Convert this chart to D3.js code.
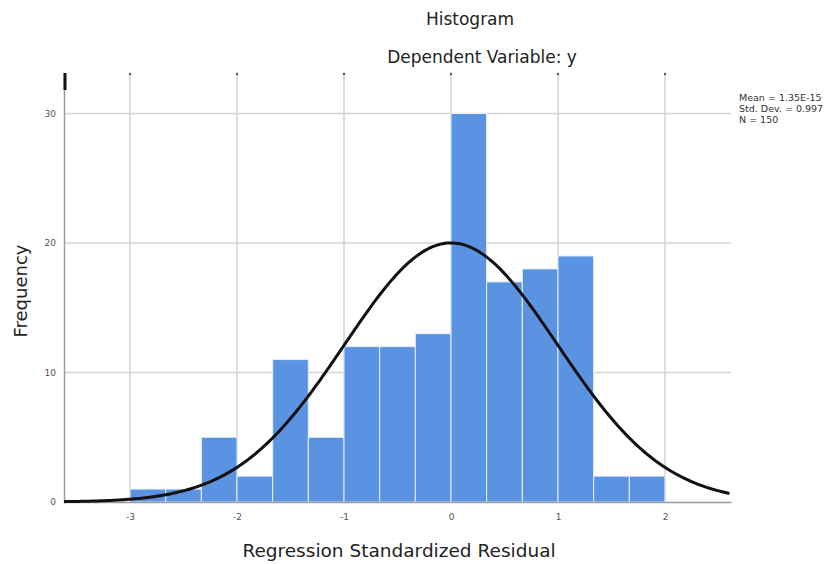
<!DOCTYPE html>
<html>
<head>
<meta charset="utf-8">
<script src="https://cdn.jsdelivr.net/npm/d3@7"></script>
<style>
  html, body { margin: 0; padding: 0; background: #fff; }
  svg { display: block; font-family: "DejaVu Sans", sans-serif; }
</style>
</head>
<body>
<svg id="chart" width="838" height="564"></svg>
<script>
// ---- data ----
const binStarts = [-3, -2.6667, -2.3333, -2, -1.6667, -1.3333, -1, -0.6667, -0.3333, 0, 0.3333, 0.6667, 1, 1.3333, 1.6667];
const binWidth = 1 / 3;
const counts = [1, 1, 5, 2, 11, 5, 12, 12, 13, 30, 17, 18, 19, 2, 2];
const xTicks = [-3, -2, -1, 0, 1, 2];
const yTicks = [0, 10, 20, 30];
const statMean = 1.35e-15;
const statSd = 0.997;
const statN = 150;
const legendLines = ["Mean = 1.35E-15", "Std. Dev. = 0.997", "N = 150"];
const titleText = "Histogram";
const subtitleText = "Dependent Variable: y";
const xTitle = "Regression Standardized Residual";
const yTitle = "Frequency";

// ---- layout ----
const svg = d3.select("#chart");
const pL = 64, pR = 731, pT = 73, pB = 502;
const x = d3.scaleLinear().domain([-3.617, 2.617]).range([pL, pR]);
const y = d3.scaleLinear().domain([0, 33.13]).range([pB, pT]);

// grid lines
const grid = svg.append("g");
grid.selectAll("line.h").data(yTicks.filter(d => d > 0)).join("line")
  .attr("class", "h")
  .attr("x1", pL).attr("x2", pR)
  .attr("y1", d => y(d)).attr("y2", d => y(d))
  .attr("stroke", "#d4d4d4").attr("stroke-width", 1.5);
grid.selectAll("line.v").data(xTicks).join("line")
  .attr("class", "v")
  .attr("x1", d => x(d)).attr("x2", d => x(d))
  .attr("y1", pT).attr("y2", pB)
  .attr("stroke", "#d4d4d4").attr("stroke-width", 1.5);
grid.selectAll("circle").data(xTicks).join("circle")
  .attr("cx", d => x(d)).attr("cy", pT + 1).attr("r", 1.2).attr("fill", "#555");

// bars
svg.append("g").selectAll("rect").data(counts).join("rect")
  .attr("x", (d, i) => x(binStarts[i]))
  .attr("width", (d, i) => x(binStarts[i] + binWidth) - x(binStarts[i]))
  .attr("y", d => y(d))
  .attr("height", d => pB - y(d))
  .attr("fill", "#5b93e3")
  .attr("stroke", "#e8f0fb").attr("stroke-width", 1);

// axes
const yAxis = d3.axisLeft(y).tickValues(yTicks).tickSize(0).tickPadding(8);
const gy = svg.append("g").attr("transform", `translate(${pL},0)`).call(yAxis);
gy.select(".domain").attr("stroke", "#9a9a9a").attr("stroke-width", 1.5);
gy.selectAll("text").attr("font-size", 9).attr("fill", "#555").attr("font-family", "DejaVu Sans");

const xAxis = d3.axisBottom(x).tickValues(xTicks).tickSize(0).tickPadding(12).tickFormat(d => String(d));
const gx = svg.append("g").attr("transform", `translate(0,${pB})`).call(xAxis);
gx.select(".domain").attr("stroke", "#9a9a9a").attr("stroke-width", 1.5);
gx.selectAll("text").attr("font-size", 9).attr("fill", "#555").attr("font-family", "DejaVu Sans");

// dark marker at top of y axis
svg.append("line").attr("x1", pL + 1).attr("x2", pL + 1)
  .attr("y1", pT).attr("y2", pT + 17).attr("stroke", "#111").attr("stroke-width", 3);

// normal curve
const scale = statN * binWidth;
const xs = d3.range(x.domain()[0], x.domain()[1] + 0.001, 0.02);
const pdf = v => scale * Math.exp(-0.5 * Math.pow((v - statMean) / statSd, 2)) / (statSd * Math.sqrt(2 * Math.PI));
svg.append("path").datum(xs)
  .attr("d", d3.line().x(d => x(d)).y(d => y(pdf(d))))
  .attr("fill", "none").attr("stroke", "#111").attr("stroke-width", 3);

// titles
svg.append("text").attr("x", 470).attr("y", 25).attr("text-anchor", "middle")
  .attr("font-size", 17).attr("fill", "#222").text(titleText);
svg.append("text").attr("x", 482).attr("y", 63).attr("text-anchor", "middle")
  .attr("font-size", 17).attr("fill", "#222").text(subtitleText);
svg.append("text").attr("x", 399).attr("y", 557).attr("text-anchor", "middle")
  .attr("font-size", 18.5).attr("fill", "#222").text(xTitle);
svg.append("text").attr("transform", "translate(27,291) rotate(-90)").attr("text-anchor", "middle")
  .attr("font-size", 18).attr("fill", "#222").text(yTitle);

// legend
svg.append("g").selectAll("text").data(legendLines).join("text")
  .attr("x", 739).attr("y", (d, i) => 101 + i * 11)
  .attr("font-size", 9.5).attr("fill", "#333").text(d => d);
</script>
</body>
</html>
